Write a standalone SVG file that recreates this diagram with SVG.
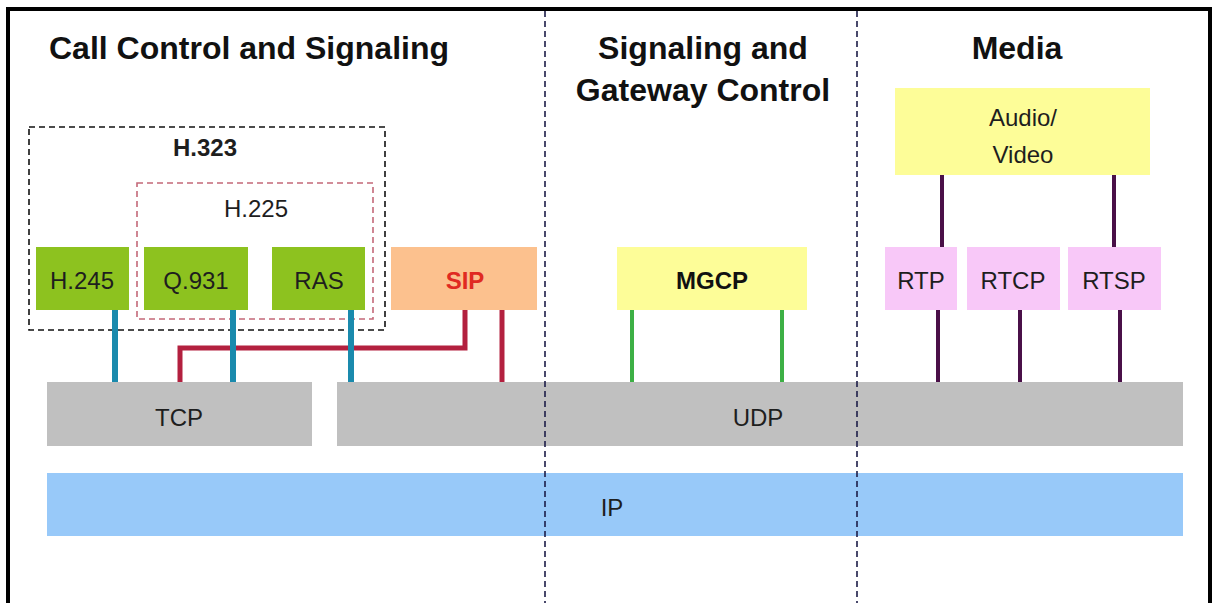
<svg xmlns="http://www.w3.org/2000/svg" width="1212" height="603" viewBox="0 0 1212 603">
  <defs>
    <style>
      .title { font-family: "Liberation Sans", Arial, sans-serif; font-weight: bold; font-size: 32px; fill: #111; text-anchor: middle; }
      .lbl { font-family: "Liberation Sans", Arial, sans-serif; font-size: 24px; fill: #1e1e1e; text-anchor: middle; }
      .bold { font-weight: bold; }
      .green { fill: #8dc21f; }
      .pink { fill: #f8c8f8; }
      .yellow { fill: #fdfd98; }
      .peach { fill: #fcc18e; }
      .gray { fill: #c0c0c0; }
      .blue { fill: #98c9f9; }
      .divider { stroke: #1c1c48; stroke-width: 1.6; stroke-dasharray: 6 4; fill: none; }
      .wire { fill: none; stroke-linecap: butt; }
      .w-teal { stroke: #1a8aad; stroke-width: 6; }
      .w-red { stroke: #b3203f; stroke-width: 5; }
      .w-green { stroke: #3db045; stroke-width: 4; }
      .w-purple { stroke: #4a1048; stroke-width: 4; }
    </style>
  </defs>

  <rect width="1212" height="603" fill="#ffffff"/>

  <!-- outer frame (open at the bottom) -->
  <path d="M8,620 V9 H1210 V620" fill="none" stroke="#000" stroke-width="4"/>

  <!-- column titles -->
  <text class="title" x="249" y="59">Call Control and Signaling</text>
  <text class="title" x="703" y="59">Signaling and</text>
  <text class="title" x="703" y="101">Gateway Control</text>
  <text class="title" x="1017" y="59">Media</text>

  <!-- transport and network layers -->
  <g id="tcp">
    <rect class="gray" x="47" y="382" width="265" height="64"/>
    <text class="lbl" x="179" y="426">TCP</text>
  </g>
  <g id="udp">
    <rect class="gray" x="337" y="382" width="846" height="64"/>
    <text class="lbl" x="758" y="426">UDP</text>
  </g>
  <g id="ip">
    <rect class="blue" x="47" y="473" width="1136" height="63"/>
    <text class="lbl" x="612" y="516">IP</text>
  </g>

  <!-- protocol groupings -->
  <g id="h323">
    <rect x="29" y="127" width="356" height="203" fill="none" stroke="#111" stroke-width="1.6" stroke-dasharray="6 4"/>
    <text class="lbl bold" x="205" y="156">H.323</text>
  </g>
  <g id="h225">
    <rect x="137" y="183" width="236" height="136" fill="none" stroke="#c46878" stroke-width="1.6" stroke-dasharray="6 4"/>
    <text class="lbl" x="256" y="217">H.225</text>
  </g>

  <!-- connectors -->
  <g id="connectors" class="wire">
    <path class="wire w-red" d="M465,310 V348 H180 V382"/>
    <path class="wire w-red" d="M502,310 V382"/>
    <path class="wire w-teal" d="M115,310 V382"/>
    <path class="wire w-teal" d="M233,310 V382"/>
    <path class="wire w-teal" d="M351,310 V382"/>
    <path class="wire w-green" d="M632,310 V382"/>
    <path class="wire w-green" d="M782,310 V382"/>
    <path class="wire w-purple" d="M942,175 V247"/>
    <path class="wire w-purple" d="M1114,175 V247"/>
    <path class="wire w-purple" d="M938,310 V382"/>
    <path class="wire w-purple" d="M1020,310 V382"/>
    <path class="wire w-purple" d="M1120,310 V382"/>
  </g>

  <!-- protocol nodes -->
  <g id="h245">
    <rect class="green" x="36" y="247" width="93" height="63"/>
    <text class="lbl" x="82" y="289">H.245</text>
  </g>
  <g id="q931">
    <rect class="green" x="144" y="247" width="104" height="63"/>
    <text class="lbl" x="196" y="289">Q.931</text>
  </g>
  <g id="ras">
    <rect class="green" x="272" y="247" width="93" height="63"/>
    <text class="lbl" x="319" y="289">RAS</text>
  </g>
  <g id="sip">
    <rect class="peach" x="391" y="247" width="146" height="63"/>
    <text class="lbl bold" x="465" y="289" style="fill:#e02a22">SIP</text>
  </g>
  <g id="mgcp">
    <rect class="yellow" x="617" y="247" width="190" height="63"/>
    <text class="lbl bold" x="712" y="289" style="fill:#111">MGCP</text>
  </g>
  <g id="audio-video">
    <rect class="yellow" x="895" y="88" width="255" height="87"/>
    <text class="lbl" x="1023" y="126">Audio/</text>
    <text class="lbl" x="1023" y="163">Video</text>
  </g>
  <g id="rtp">
    <rect class="pink" x="885" y="247" width="72" height="63"/>
    <text class="lbl" x="921" y="289">RTP</text>
  </g>
  <g id="rtcp">
    <rect class="pink" x="967" y="247" width="93" height="63"/>
    <text class="lbl" x="1013" y="289">RTCP</text>
  </g>
  <g id="rtsp">
    <rect class="pink" x="1068" y="247" width="93" height="63"/>
    <text class="lbl" x="1114" y="289">RTSP</text>
  </g>

  <!-- column dividers -->
  <line class="divider" x1="545" y1="11" x2="545" y2="603"/>
  <line class="divider" x1="857" y1="11" x2="857" y2="603"/>
</svg>
